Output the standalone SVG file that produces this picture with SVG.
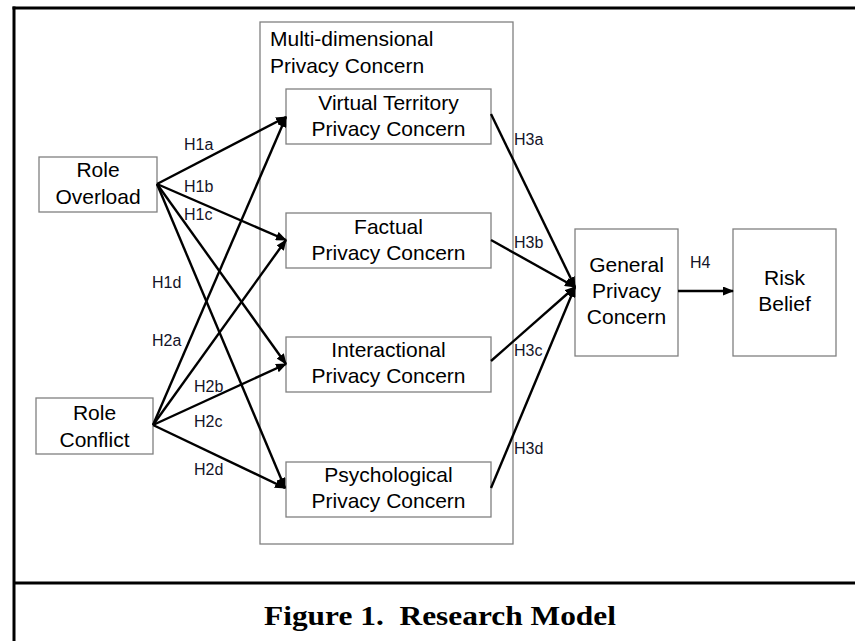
<svg xmlns="http://www.w3.org/2000/svg" width="855" height="641" viewBox="0 0 855 641">
  <style>
    .box { fill: #fff; stroke: #808080; stroke-width: 1.3; }
    .frame { stroke: #000; stroke-width: 3; fill: none; }
    .node { font-family: "Liberation Sans", Arial, sans-serif; font-size: 21px; fill: #000; text-anchor: middle; }
    .title { font-family: "Liberation Sans", Arial, sans-serif; font-size: 21px; fill: #000; }
    .lbl { font-family: "Liberation Sans", Arial, sans-serif; font-size: 16px; fill: #141428; }
    .edge { stroke: #000; stroke-width: 2.4; fill: none; marker-end: url(#arrow); }
    .caption { font-family: "Liberation Serif", "Times New Roman", serif; font-weight: bold; font-size: 27px; fill: #000; text-anchor: middle; white-space: pre; }
  </style>
  <defs>
    <marker id="arrow" markerUnits="userSpaceOnUse" markerWidth="11" markerHeight="9" refX="10" refY="4.5" orient="auto">
      <path d="M0,0 L11,4.5 L0,9 Z" fill="#000"/>
    </marker>
  </defs>

  <rect width="855" height="641" fill="#fff"/>

  <!-- page frame and caption divider -->
  <g id="frame">
    <line class="frame" x1="12.5" y1="8" x2="855" y2="8"/>
    <line class="frame" x1="14" y1="6.5" x2="14" y2="641"/>
    <line class="frame" x1="13" y1="583" x2="855" y2="583"/>
  </g>

  <!-- container for the privacy concern dimensions -->
  <g id="multi-dimensional">
    <rect class="box" x="260" y="22" width="253" height="522"/>
    <text class="title" x="270" y="46">Multi-dimensional</text>
    <text class="title" x="270" y="73">Privacy Concern</text>
  </g>

  <g id="role-overload">
    <rect class="box" x="39" y="157" width="118" height="55"/>
    <text class="node" x="98" y="177">Role</text>
    <text class="node" x="98" y="204">Overload</text>
  </g>

  <g id="role-conflict">
    <rect class="box" x="36" y="398" width="117" height="56"/>
    <text class="node" x="94.5" y="420">Role</text>
    <text class="node" x="94.5" y="447">Conflict</text>
  </g>

  <g id="virtual-territory">
    <rect class="box" x="286" y="89" width="205" height="55"/>
    <text class="node" x="388.5" y="110">Virtual Territory</text>
    <text class="node" x="388.5" y="136">Privacy Concern</text>
  </g>

  <g id="factual">
    <rect class="box" x="286" y="213" width="205" height="55"/>
    <text class="node" x="388.5" y="234">Factual</text>
    <text class="node" x="388.5" y="260">Privacy Concern</text>
  </g>

  <g id="interactional">
    <rect class="box" x="286" y="337" width="205" height="55"/>
    <text class="node" x="388.5" y="357">Interactional</text>
    <text class="node" x="388.5" y="383">Privacy Concern</text>
  </g>

  <g id="psychological">
    <rect class="box" x="286" y="462" width="205" height="55"/>
    <text class="node" x="388.5" y="482">Psychological</text>
    <text class="node" x="388.5" y="508">Privacy Concern</text>
  </g>

  <g id="general-privacy-concern">
    <rect class="box" x="575" y="229" width="103" height="127"/>
    <text class="node" x="626.5" y="272">General</text>
    <text class="node" x="626.5" y="298">Privacy</text>
    <text class="node" x="626.5" y="324">Concern</text>
  </g>

  <g id="risk-belief">
    <rect class="box" x="733" y="229" width="103" height="127"/>
    <text class="node" x="784.5" y="285">Risk</text>
    <text class="node" x="784.5" y="311">Belief</text>
  </g>

  <!-- hypothesised paths -->
  <g id="connectors">
    <line class="edge" x1="157" y1="184" x2="286" y2="117"/>
    <line class="edge" x1="157" y1="184" x2="286" y2="240"/>
    <line class="edge" x1="157" y1="184" x2="286" y2="364"/>
    <line class="edge" x1="157" y1="184" x2="285" y2="488"/>
    <line class="edge" x1="153" y1="425" x2="286" y2="117"/>
    <line class="edge" x1="153" y1="425" x2="286" y2="240"/>
    <line class="edge" x1="153" y1="425" x2="286" y2="364"/>
    <line class="edge" x1="153" y1="425" x2="285" y2="488"/>
    <line class="edge" x1="491" y1="114" x2="575" y2="287"/>
    <line class="edge" x1="491" y1="240" x2="575" y2="287"/>
    <line class="edge" x1="491" y1="361" x2="575" y2="287"/>
    <line class="edge" x1="491" y1="488" x2="575" y2="287"/>
    <line class="edge" x1="678" y1="291" x2="733" y2="291"/>
  </g>

  <g id="labels">
    <text class="lbl" x="184" y="150">H1a</text>
    <text class="lbl" x="184" y="192">H1b</text>
    <text class="lbl" x="184" y="220">H1c</text>
    <text class="lbl" x="152" y="288">H1d</text>
    <text class="lbl" x="152" y="346">H2a</text>
    <text class="lbl" x="194" y="392">H2b</text>
    <text class="lbl" x="194" y="427">H2c</text>
    <text class="lbl" x="194" y="475">H2d</text>
    <text class="lbl" x="514" y="145">H3a</text>
    <text class="lbl" x="514" y="248">H3b</text>
    <text class="lbl" x="514" y="356">H3c</text>
    <text class="lbl" x="514" y="454">H3d</text>
    <text class="lbl" x="690" y="268">H4</text>
  </g>

  <text class="caption" x="440" y="625" textLength="352" lengthAdjust="spacingAndGlyphs">Figure 1.  Research Model</text>
</svg>
